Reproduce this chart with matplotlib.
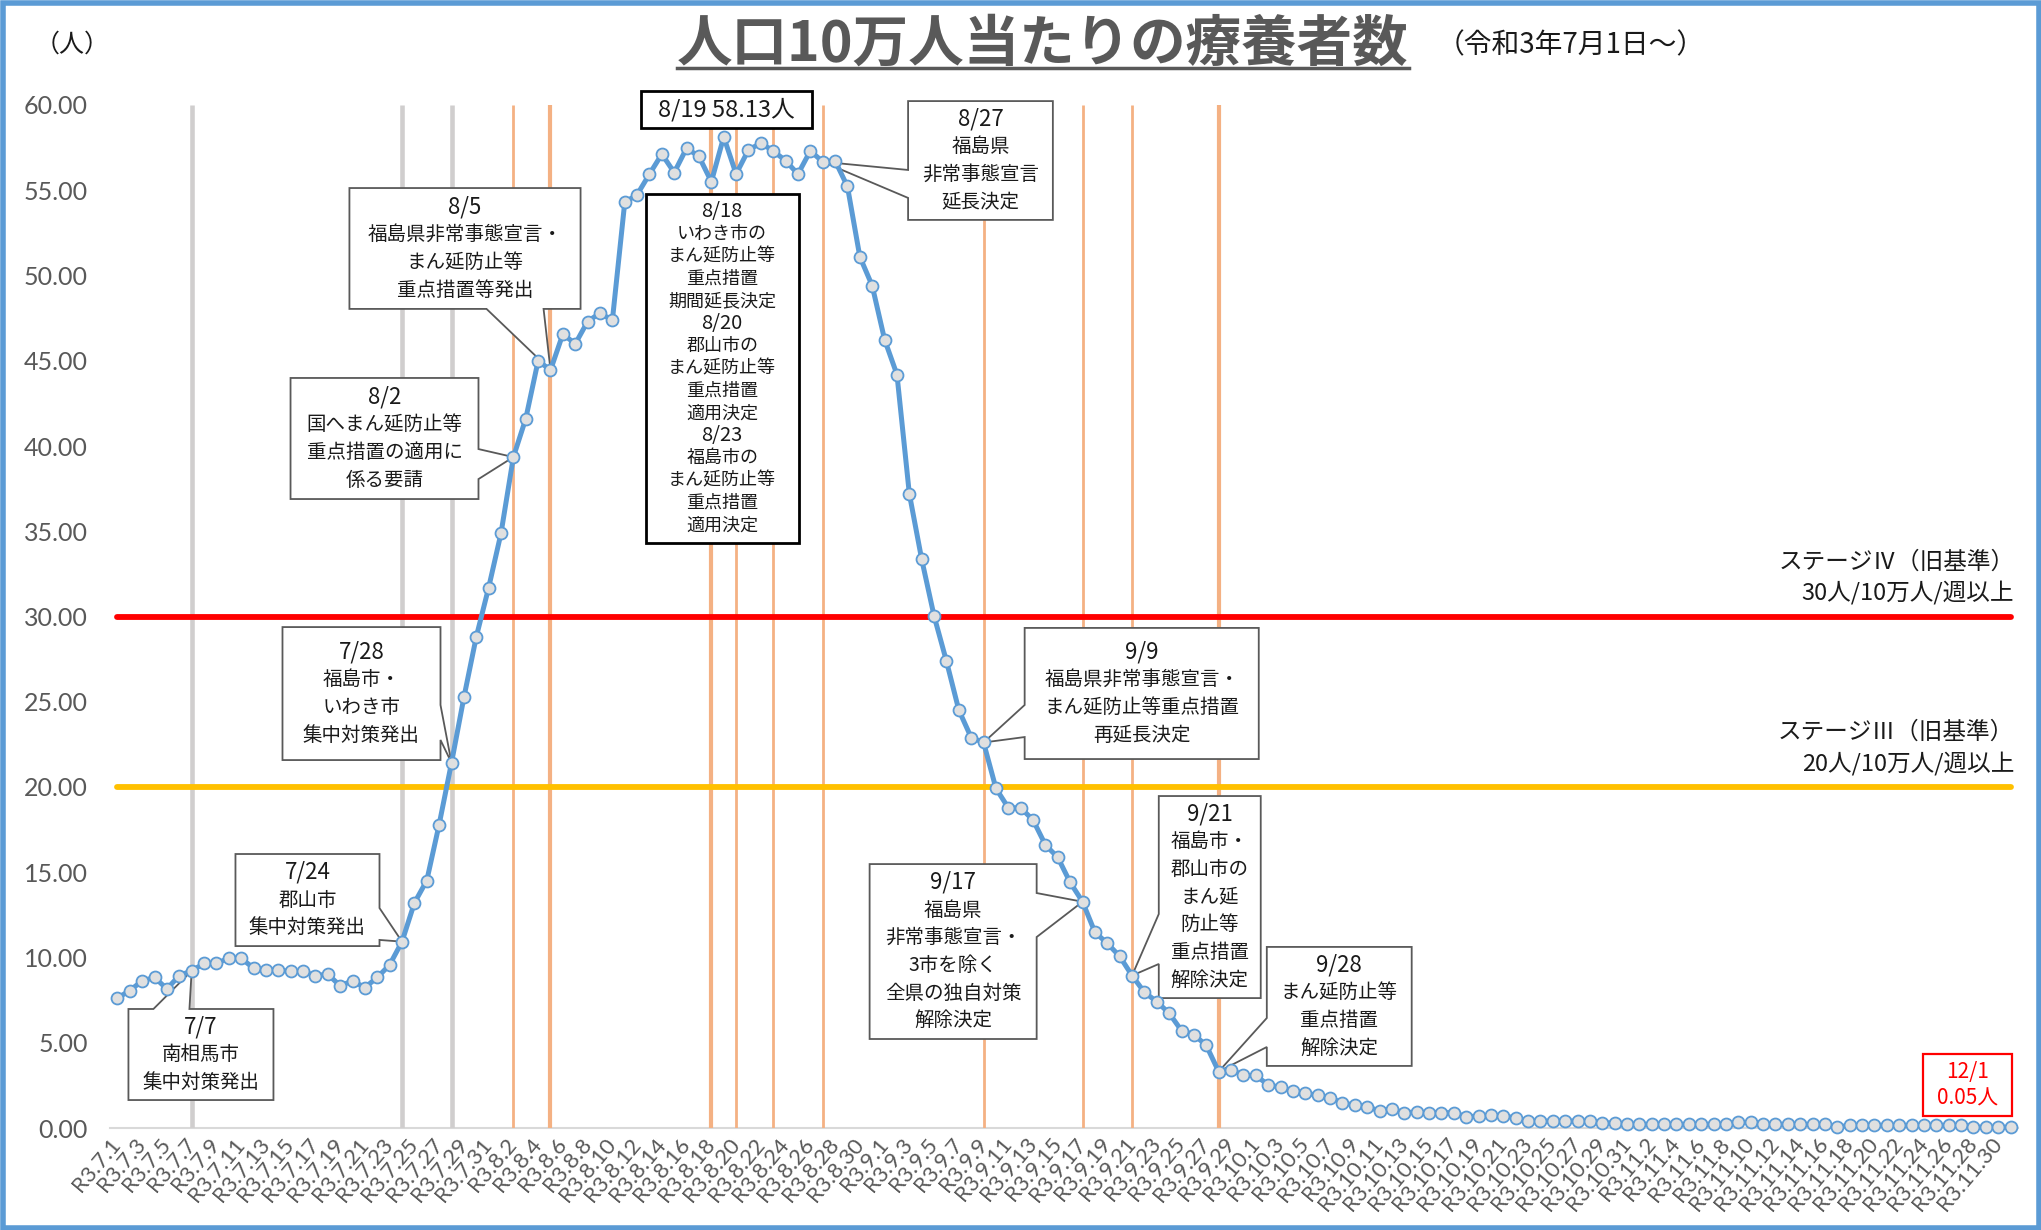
import matplotlib
matplotlib.use("Agg")
import matplotlib.pyplot as plt
from matplotlib.patches import Polygon, Rectangle
from matplotlib.lines import Line2D
from matplotlib.transforms import ScaledTranslation
import datetime as dt

plt.rcParams['font.family'] = ['Noto Sans CJK JP', 'DejaVu Sans']

# ---------------- data ----------------
start = dt.date(2021, 7, 1)
dates = [start + dt.timedelta(days=i) for i in range(154)]
categories = [f"R3.{d.month}.{d.day}" for d in dates]
short_labels = [f"{d.month}/{d.day}" for d in dates]

jul = [7.62, 8.06, 8.63, 8.83, 8.16, 8.94, 9.22, 9.65, 9.65, 9.96, 9.96, 9.37, 9.27, 9.27, 9.18, 9.18,
       8.94, 9.02, 8.34, 8.63, 8.24, 8.83, 9.57, 10.93, 13.20, 14.51, 17.80, 21.42, 25.25, 28.80, 31.69]
aug = [34.88, 39.35, 41.60, 45.00, 44.45, 46.57, 45.99, 47.30, 47.80, 47.37, 54.29, 54.74, 55.95, 57.12,
       56.04, 57.47, 56.98, 55.50, 58.13, 55.95, 57.37, 57.76, 57.31, 56.73, 55.95, 57.31, 56.67, 56.73,
       55.22, 51.10, 49.40]
sep = [46.24, 44.19, 37.20, 33.35, 30.03, 27.38, 24.51, 22.90, 22.61, 19.92, 18.78, 18.78, 18.06, 16.60,
       15.87, 14.40, 13.27, 11.48, 10.83, 10.07, 8.94, 7.96, 7.41, 6.73, 5.71, 5.48, 4.84, 3.31, 3.43, 3.08]
oct_ = [3.08, 2.53, 2.39, 2.16, 2.04, 1.92, 1.78, 1.47, 1.34, 1.25, 1.00, 1.10, 0.90, 0.94, 0.90, 0.90,
        0.90, 0.66, 0.70, 0.74, 0.70, 0.60, 0.41, 0.41, 0.41, 0.41, 0.41, 0.41, 0.30, 0.30, 0.22]
nov = [0.22, 0.22, 0.22, 0.22, 0.22, 0.22, 0.22, 0.22, 0.33, 0.33, 0.22, 0.22, 0.22, 0.22, 0.22, 0.22,
       0.05, 0.16, 0.16, 0.16, 0.16, 0.16, 0.16, 0.16, 0.16, 0.16, 0.16, 0.05, 0.05, 0.05]
dec = [0.05]
values = jul + aug + sep + oct_ + nov + dec

stage4_value = 30.0
stage3_value = 20.0
stage4_text = ["ステージⅣ（旧基準）", "30人/10万人/週以上"]
stage3_text = ["ステージⅢ（旧基準）", "20人/10万人/週以上"]

gray_events = ["R3.7.7", "R3.7.24", "R3.7.28"]
orange_events = ["R3.8.2", "R3.8.5", "R3.8.18", "R3.8.20", "R3.8.23", "R3.8.27",
                 "R3.9.9", "R3.9.17", "R3.9.21", "R3.9.28"]
thick_orange = ["R3.8.5", "R3.8.18", "R3.9.28"]

yticks = [0, 5, 10, 15, 20, 25, 30, 35, 40, 45, 50, 55, 60]

# callouts: event, body lines, box (x0,x1,y0,y1) in data units, wedge side, wedge base
callouts = [
    ("R3.7.7", ["南相馬市", "集中対策発出"], (0.89, 12.61, 1.64, 6.98), "top", (2.91, 5.82)),
    ("R3.7.24", ["郡山市", "集中対策発出"], (9.54, 21.18, 10.67, 16.07), "right", (11.03, 12.90)),
    ("R3.7.28", ["福島市・", "いわき市", "集中対策発出"], (13.34, 26.11, 21.58, 29.38), "right", (22.76, 24.81)),
    ("R3.8.2", ["国へまん延防止等", "重点措置の適用に", "係る要請"], (13.99, 29.18, 36.89, 43.99), "right", (38.06, 39.82)),
    ("R3.8.5", ["福島県非常事態宣言・", "まん延防止等", "重点措置等発出"], (18.75, 37.43, 48.04, 55.13), "bottom", (29.83, 34.44)),
    ("R3.8.27", ["福島県", "非常事態宣言", "延長決定"], (63.9, 75.6, 53.26, 60.23), "left", (54.55, 56.19)),
    ("R3.9.9", ["福島県非常事態宣言・", "まん延防止等重点措置", "再延長決定"], (73.32, 92.24, 21.64, 29.33), "left", (22.93, 24.81)),
    ("R3.9.17", ["福島県", "非常事態宣言・", "3市を除く", "全県の独自対策", "解除決定"], (60.79, 74.29, 5.22, 15.48), "right", (11.2, 13.78)),
    ("R3.9.21", ["福島市・", "郡山市の", "まん延", "防止等", "重点措置", "解除決定"], (84.16, 92.4, 7.62, 19.47), "left", (9.62, 12.55)),
    ("R3.9.28", ["まん延防止等", "重点措置", "解除決定"], (92.89, 104.6, 3.64, 10.62), "left", (4.75, 6.45)),
]

big_box_events = [("R3.8.18", ["いわき市の", "まん延防止等", "重点措置", "期間延長決定"]),
                  ("R3.8.20", ["郡山市の", "まん延防止等", "重点措置", "適用決定"]),
                  ("R3.8.23", ["福島市の", "まん延防止等", "重点措置", "適用決定"])]
big_box = (42.7, 55.05, 34.31, 54.78)
peak_box = (42.3, 56.1, 58.65, 60.82)
last_box = (145.9, 153.1, 0.70, 4.34)

# ---------------- figure ----------------
DPI = 100
W, H = 2041, 1230
fig = plt.figure(figsize=(W / DPI, H / DPI), dpi=DPI)
ax = fig.add_axes([110 / W, (H - 1128) / H, (2018 - 110) / W, (1128 - 105) / H])

x = list(range(len(values)))
ax.set_xlim(-0.6, len(values) - 1 + 0.6)
ax.set_ylim(0, 60)

idx = {c: i for i, c in enumerate(categories)}

# event verticals
for c in gray_events:
    ax.plot([idx[c], idx[c]], [0, 60], color='#D0CECE', lw=3.3, zorder=1, solid_capstyle='butt')
for c in orange_events:
    lw = 3.0 if c in thick_orange else 2.0
    ax.plot([idx[c], idx[c]], [0, 60], color='#F4B183', lw=lw, zorder=1, solid_capstyle='butt')

# thresholds
ax.plot([0, len(values) - 1], [stage4_value] * 2, color='#FF0000', lw=4.2, zorder=2, solid_capstyle='round')
ax.plot([0, len(values) - 1], [stage3_value] * 2, color='#FFC000', lw=4.2, zorder=2, solid_capstyle='round')

# data line
ax.plot(x, values, color='#5B9BD5', lw=3.6, marker='o', markersize=8.6, markerfacecolor='#E0E0E0',
        markeredgecolor='#5B9BD5', markeredgewidth=1.3, zorder=5, clip_on=False)

# axes styling
for s in ['left', 'right', 'top']:
    ax.spines[s].set_visible(False)
ax.spines['bottom'].set_color('#D9D9D9')
ax.spines['bottom'].set_linewidth(1.5)
ax.spines['bottom'].set_zorder(0.5)
ax.set_yticks(yticks)
ax.set_yticklabels([f"{v:.2f}" for v in yticks], fontsize=18, color='#595959',
                   family=['Lato', 'DejaVu Sans'])
ax.tick_params(axis='y', length=0, pad=16)
ax.set_xticks(x[::2])
ax.set_xticklabels(categories[::2], fontsize=16, color='#595959',
                   family=['Lato', 'DejaVu Sans'])
ax.tick_params(axis='x', length=0, pad=9)
plt.setp(ax.get_xticklabels(), rotation=50, ha='right', va='center', rotation_mode='anchor')


def draw_box(box, side=None, base=None, tip=None, ec='#595959', lw=1.3):
    x0, x1, y0, y1 = box
    if side is None:
        pts = [(x0, y0), (x1, y0), (x1, y1), (x0, y1)]
    elif side == 'bottom':
        pts = [(x0, y0), (base[0], y0), tip, (base[1], y0), (x1, y0), (x1, y1), (x0, y1)]
    elif side == 'right':
        pts = [(x0, y0), (x1, y0), (x1, base[0]), tip, (x1, base[1]), (x1, y1), (x0, y1)]
    elif side == 'top':
        pts = [(x0, y0), (x1, y0), (x1, y1), (base[1], y1), tip, (base[0], y1), (x0, y1)]
    else:  # left
        pts = [(x0, y0), (x1, y0), (x1, y1), (x0, y1), (x0, base[1]), tip, (x0, base[0])]
    ax.add_patch(Polygon(pts, closed=True, fc='white', ec=ec, lw=lw, zorder=3,
                         clip_on=False, joinstyle='miter'))


def draw_lines(box, lines, sizes, pitch, color='#1A1A1A'):
    xc = (box[0] + box[1]) / 2
    yc = (box[2] + box[3]) / 2
    n = len(lines)
    for i, (s, fs) in enumerate(zip(lines, sizes)):
        off = ((n - 1) / 2 - i) * pitch
        tr = ax.transData + ScaledTranslation(0, off / DPI, fig.dpi_scale_trans)
        ax.text(xc, yc, s, transform=tr, ha='center', va='center', fontsize=fs,
                color=color, zorder=6, clip_on=False)


for ev, body, box, side, base in callouts:
    i = idx[ev]
    draw_box(box, side, base, (i, values[i]))
    lines = [short_labels[i]] + body
    draw_lines(box, lines, [16] + [14] * len(body), 27.7)

# big black box
draw_box(big_box, ec='#000000', lw=2.0)
lines, sizes = [], []
for ev, body in big_box_events:
    lines += [short_labels[idx[ev]]] + body
    sizes += [14.5] + [13] * len(body)
draw_lines(big_box, lines, sizes, 22.4)

# peak box
imax = max(range(len(values)), key=lambda k: values[k])
draw_box(peak_box, ec='#000000', lw=2.0)
draw_lines(peak_box, [f"{short_labels[imax]} {values[imax]:.2f}人"], [17], 0)

# last value box
draw_box(last_box, ec='#FF0000', lw=1.6)
draw_lines(last_box, [short_labels[-1], f"{values[-1]:.2f}人"], [15, 15], 26, color='#FF0000')

# stage texts
for txt, yv in ((stage4_text, stage4_value), (stage3_text, stage3_value)):
    ax.text(153.3, yv + 3.2, txt[0], ha='right', va='center', fontsize=17, color='#1A1A1A', zorder=6)
    ax.text(153.3, yv + 1.4, txt[1], ha='right', va='center', fontsize=17, color='#1A1A1A', zorder=6)

# titles
t = fig.text(1043 / W, 1 - 45 / H, "人口10万人当たりの療養者数", ha='center', va='center',
             fontsize=40, fontweight='bold', color='#595959')
fig.text(1437 / W, 1 - 45 / H, "（令和3年7月1日～）", ha='left', va='center', fontsize=20, color='#1A1A1A')
fig.text(72 / W, 1 - 45 / H, "（人）", ha='center', va='center', fontsize=18, color='#1A1A1A')

fig.canvas.draw()
bb = t.get_window_extent(fig.canvas.get_renderer())
uy = (H - 68) / H
fig.add_artist(Line2D([bb.x0 / W, bb.x1 / W], [uy, uy], transform=fig.transFigure,
                      color='#595959', lw=2.5))

# outer border
fig.add_artist(Rectangle((2.5 / W, 2.5 / H), 1 - 5 / W, 1 - 5 / H, transform=fig.transFigure,
                         fill=False, ec='#5B9BD5', lw=4))

fig.savefig("out.png", dpi=DPI)
